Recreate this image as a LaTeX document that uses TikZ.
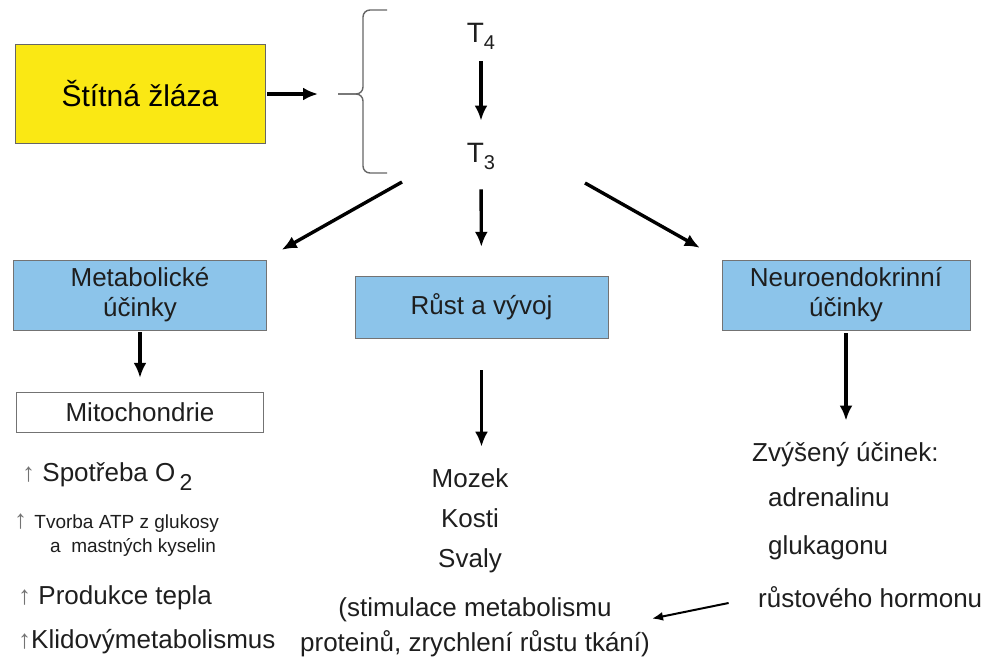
\documentclass[tikz,border=0pt]{standalone}
\usepackage{fontspec}
\setmainfont{Liberation Sans}
\usetikzlibrary{arrows,arrows.meta,positioning}
\definecolor{zluta}{RGB}{250,232,20}
\definecolor{modra}{RGB}{140,196,234}
\definecolor{tmava}{RGB}{30,30,30}
\newcommand{\velke}{\fontsize{26}{30}\selectfont}
\newcommand{\male}{\fontsize{19}{26}\selectfont}
\newcommand{\nahoru}{{\color{black!55}↑}}
\newcommand{\dolni}[1]{\raisebox{-7pt}{\fontsize{20}{20}\selectfont #1}}
\tikzset{
    block/.style = {draw=black!55, fill=modra, rectangle,
        minimum height=70pt,
        minimum width=253pt, align=center, font=\velke, text=tmava},
    gland/.style = {draw=black!60, fill=zluta, rectangle,
        minimum height=99pt, minimum width=250pt, font=\fontsize{30}{34}\selectfont},
    plain/.style = {font=\velke, text=tmava, inner sep=0pt},
    arrow/.style={draw, -{Latex[length=15pt,width=13pt]}, line width=3.4pt},
    thinarrow/.style={draw, -{Latex[length=11pt,width=9pt]}, line width=2pt},
    brace/.style = {draw=black!60, line width=1.4pt, rounded corners=7pt}
}
\begin{document}
\begin{tikzpicture}[x=1pt, y=-1pt]
    \useasboundingbox (0,0) rectangle (999,667);
    % thyroid and hormones
    \node [gland] (gland) at (140,94) {Štítná žláza};
    \coordinate (tip) at (338,94);
    \draw [brace] (387,10) -- (363,10) -- (363,94) -- (tip);
    \draw [brace] (tip) -- (363,94) -- (363,173) -- (387,173);
    \draw [arrow, shorten <=2pt, shorten >=20pt] (gland.east) -- (tip);
    \node [plain, font=\fontsize{28}{30}\selectfont] (t4) at (481,36) {T\dolni{4}};
    \node [plain, font=\fontsize{28}{30}\selectfont] (t3) at (481,156) {T\dolni{3}};
    \draw [arrow, shorten <=12pt, shorten >=22pt] (t4.south) -- (t3.north);
    % effects
    \node [block] (met) at (140,295) {Metabolické\\ účinky};
    \node [block, minimum height=62pt] (rust) at (481.5,307) {Růst a vývoj};
    \node [block, minimum width=248pt] (neuro) at (846,295) {Neuroendokrinní\\ účinky};
    \coordinate (t3l) at (402,182);
    \coordinate (t3r) at (585,183);
    \draw [arrow] (t3l) -- ([xshift=15pt,yshift=10pt]met.north east);
    \draw [arrow, shorten <=20pt, shorten >=29pt] (t3.south) -- (rust.north);
    \draw [arrow] (t3r) -- ([xshift=-22pt,yshift=12pt]neuro.north west);
    % metabolic branch
    \node [draw=black!55, minimum width=247pt, minimum height=40pt, font=\velke, text=tmava] (mito) at (140,412) {Mitochondrie};
    \draw [arrow, shorten <=2pt, shorten >=14pt] (met.south) -- (mito.north);
    \node [plain, anchor=west] (spot) at (22,477) {\nahoru\ Spotřeba O\,\raisebox{-9pt}{\fontsize{23}{23}\selectfont 2}};
    \node [plain, anchor=west, align=left] (atp) at (14,535) {\nahoru\ {\male Tvorba ATP z glukosy}\\[-6pt]
        \hspace*{36pt}{\male a\ \ mastných kyselin}};
    \node [plain, anchor=west] (teplo) at (18,598) {\nahoru\ Produkce tepla};
    \node [plain, anchor=west] (klid) at (18,642) {\nahoru Klidovýmetabolismus};
    % growth branch
    \node [plain, align=center, font=\fontsize{26}{40}\selectfont] (organy) at (470,521) {Mozek\\ Kosti\\ Svaly};
    \draw [arrow, shorten <=32pt, shorten >=22pt] (rust.south) -- (rust.south |- organy.north);
    \node [plain, align=center, font=\fontsize{26}{35}\selectfont] (stim) at (475,627) {(stimulace metabolismu\\ proteinů, zrychlení růstu tkání)};
    % neuroendocrine branch
    \node [plain, anchor=west] (zvys) at (752,455) {Zvýšený účinek:};
    \node [plain, anchor=west] (adren) at (768,497) {adrenalinu};
    \node [plain, anchor=west] (gluk) at (768,548) {glukagonu};
    \node [plain, anchor=west] (hormon) at (758,597) {růstového hormonu};
    \draw [arrow, shorten <=3pt, shorten >=22pt] (neuro.south) -- (neuro.south |- zvys.north);
    \draw [thinarrow, shorten <=30pt, shorten >=2pt] (hormon.west) -- ([yshift=8pt]stim.east);
\end{tikzpicture}
\end{document}
